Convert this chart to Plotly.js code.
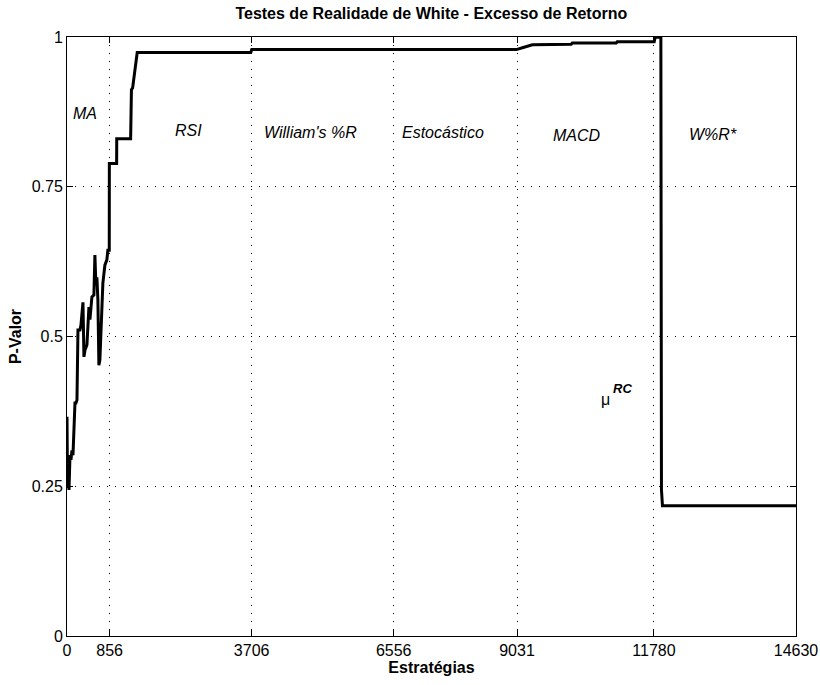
<!DOCTYPE html>
<html>
<head>
<meta charset="utf-8">
<script src="https://cdn.plot.ly/plotly-3.0.1.min.js"></script>
<style>html,body{margin:0;padding:0;background:#fff;}#chart{width:820px;height:685px;}</style>
</head>
<body>
<div id="chart"></div>
<script>
// Strategy index (x) and p-value (y)
var estrategias = [0, 10, 20, 40, 60, 80, 100, 120, 140, 160, 180, 200, 220, 260, 280, 320, 340, 360, 400, 440, 460, 500, 540, 560, 580, 600, 620, 640, 660, 700, 720, 760, 800, 820, 848, 850, 996, 998, 1277, 1293, 1317, 1409, 3688, 3708, 9018, 9139, 9339, 10120, 10140, 11022, 11042, 11784, 11804, 11918, 11930, 11950, 14630];
var pValor = [0.366, 0.247, 0.277, 0.244, 0.302, 0.294, 0.31, 0.302, 0.36, 0.389, 0.389, 0.394, 0.511, 0.511, 0.519, 0.557, 0.466, 0.477, 0.486, 0.549, 0.528, 0.566, 0.569, 0.636, 0.586, 0.599, 0.561, 0.452, 0.461, 0.561, 0.589, 0.619, 0.628, 0.644, 0.644, 0.789, 0.789, 0.83, 0.83, 0.912, 0.915, 0.974, 0.974, 0.979, 0.979, 0.982, 0.987, 0.988, 0.990, 0.990, 0.992, 0.992, 0.9995, 0.9995, 0.244, 0.2175, 0.2175];

var xTicks = [0, 856, 3706, 6556, 9031, 11780, 14630];
var yTicks = [0, 0.25, 0.5, 0.75, 1];
var yTickText = ["0", "0.25", "0.5", "0.75", "1"];

var groupLabels = ["MA", "RSI", "William's %R", "Estocástico", "MACD", "W%R*"];
var groupLabelX = [371, 2445, 4880, 7545, 10231, 12956];
var groupLabelY = [0.873, 0.844, 0.841, 0.841, 0.835, 0.837];

var muText = "μ", muX = 10802, muY = 0.394;
var rcText = "RC", rcX = 11142, rcY = 0.413;

var FONT = "Arial, 'Liberation Sans', Helvetica, sans-serif";

var trace = {
  x: estrategias, y: pValor, type: 'scatter', mode: 'lines',
  line: {color: '#000', width: 3}, hoverinfo: 'skip'
};

var annotations = groupLabels.map(function(t, i){
  return {x: groupLabelX[i], y: groupLabelY[i], xref: 'x', yref: 'y',
    text: '<i>' + t + '</i>', showarrow: false,
    font: {family: FONT, size: 16, color: '#000'}};
});
annotations.push({x: muX, y: muY, xref: 'x', yref: 'y', text: muText, showarrow: false,
  font: {family: FONT, size: 16, color: '#000'}});
annotations.push({x: rcX, y: rcY, xref: 'x', yref: 'y', text: '<b><i>' + rcText + '</i></b>', showarrow: false,
  font: {family: FONT, size: 13, color: '#000'}});

var axisCommon = {
  showline: true, linecolor: '#000', linewidth: 1, mirror: 'allticks',
  ticks: 'inside', ticklen: 6, tickwidth: 1, tickcolor: '#000',
  showgrid: true, gridcolor: '#000', gridwidth: 1, griddash: '1px,7px',
  zeroline: false, tickfont: {family: FONT, size: 16, color: '#000'}
};

var layout = {
  width: 820, height: 685,
  margin: {l: 67, r: 24, t: 37, b: 49},
  paper_bgcolor: '#fff', plot_bgcolor: '#fff',
  showlegend: false,
  title: {text: '<b>Testes de Realidade de White - Excesso de Retorno</b>',
    font: {family: FONT, size: 16, color: '#000'}, x: 0.526, xanchor: 'center', y: 0.981, yanchor: 'middle'},
  xaxis: Object.assign({}, axisCommon, {
    range: [0, 14630], tickmode: 'array', tickvals: xTicks, ticktext: xTicks.map(String),
    title: {text: '<b>Estratégias</b>', font: {family: FONT, size: 16, color: '#000'}, standoff: 0}
  }),
  yaxis: Object.assign({}, axisCommon, {
    range: [0, 1], tickmode: 'array', tickvals: yTicks, ticktext: yTickText,
    title: {text: '<b>P-Valor</b>', font: {family: FONT, size: 16, color: '#000'}, standoff: 6}
  }),
  annotations: annotations
};

Plotly.newPlot('chart', [trace], layout, {staticPlot: true, displayModeBar: false});
</script>
</body>
</html>
